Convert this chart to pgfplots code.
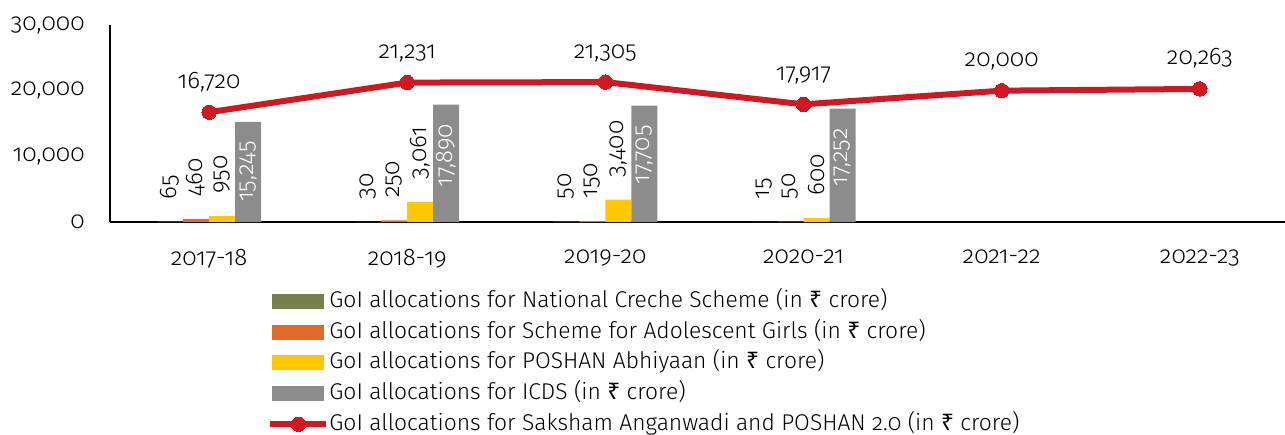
\documentclass[border=0pt]{standalone}
\usepackage{pgfplots}
\pgfplotsset{compat=1.18}
\usepackage{fontspec}
\setmainfont{Fira Sans}[UprightFont=* Light, Numbers={OldStyle,Proportional}]
\newfontfamily\rupeefont{Noto Sans}
\newcommand\rs{{\rupeefont ₹}}
\definecolor{cOlive}{RGB}{119,127,76}
\definecolor{cOrange}{RGB}{224,106,40}
\definecolor{cYellow}{RGB}{255,200,0}
\definecolor{cGray}{RGB}{140,140,140}
\definecolor{cRed}{RGB}{208,24,32}
\newcommand\numfont{\fontsize{12}{14}\selectfont}
\pgfplotsset{
  bar legend/.style={legend image code/.code={\fill[##1] (0pt,-3.75pt) rectangle (26pt,3.75pt);}},
  line legend red/.style={legend image code/.code={\draw[##1, mark repeat=2, mark phase=2] plot coordinates {(-1pt,0pt) (13pt,0pt) (27pt,0pt)};}},
  outlabel/.style={nodes near coords, nodes near coords style={xshift=#1, rotate=90, anchor=west, inner xsep=11pt, inner ysep=0pt, text=black, font=\numfont}},
  inlabel/.style={nodes near coords, nodes near coords style={xshift=#1, rotate=90, anchor=east, inner xsep=9.5pt, inner ysep=0pt, text=white, font=\numfont}},
}
\begin{document}
\begin{tikzpicture}
\useasboundingbox (0,0) rectangle (642.5pt,217pt);
\begin{axis}[
  at={(55pt,106pt)}, anchor=south west,
  scale only axis, width=587.5pt, height=98.5pt,
  xmin=-0.5, xmax=5.43, ymin=0, ymax=30000,
  clip=false,
  axis lines*=left,
  axis line style={line width=1pt, black},
  xtick={0,...,5},
  xticklabels={2017-18,2018-19,2019-20,2020-21,2021-22,2022-23},
  ytick={0,10000,20000,30000},
  major tick length=0pt,
  scaled y ticks=false,
  /pgf/number format/1000 sep={,},
  /pgf/number format/assume math mode=true,
  every x tick label/.append style={font=\numfont, inner sep=0pt, yshift=-13.5pt},
  every y tick label/.append style={font=\numfont, inner sep=0pt, xshift=-12.5pt},
  legend cell align=left,
  legend style={at={(0,0)}, anchor=north west, xshift=78.5pt, yshift=-33pt,
    draw=none, fill=none, inner sep=0pt, row sep=2.35pt,
    font=\fontsize{11.4}{13}\selectfont,
    nodes={inner sep=0pt, text height=9.5pt, text depth=3.5pt},
    /tikz/every even column/.append style={column sep=2pt}},
]
\addplot[ybar, bar width=13pt, bar shift=-19.5pt, fill=cOlive, draw=none, bar legend, outlabel=-19.5pt]
  coordinates {(0,65) (1,30) (2,50) (3,15)};
\addlegendentry{GoI allocations for National Creche Scheme (in \rs{} crore)}
\addplot[ybar, bar width=13pt, bar shift=-6.5pt, fill=cOrange, draw=none, bar legend, outlabel=-6.5pt]
  coordinates {(0,460) (1,250) (2,150) (3,50)};
\addlegendentry{GoI allocations for Scheme for Adolescent Girls (in \rs{} crore)}
\addplot[ybar, bar width=13pt, bar shift=6.5pt, fill=cYellow, draw=none, bar legend, outlabel=6.5pt]
  coordinates {(0,950) (1,3061) (2,3400) (3,600)};
\addlegendentry{GoI allocations for POSHAN Abhiyaan (in \rs{} crore)}
\addplot[ybar, bar width=13pt, bar shift=19.5pt, fill=cGray, draw=none, bar legend, inlabel=19.5pt]
  coordinates {(0,15245) (1,17890) (2,17705) (3,17252)};
\addlegendentry{GoI allocations for ICDS (in \rs{} crore)}
\addplot[cRed, line width=3pt, line join=round, mark=*, mark size=3.6pt,
  mark options={fill=cRed, line width=0pt}, line legend red,
  nodes near coords, nodes near coords style={anchor=base, yshift=12pt, inner sep=0pt, text=black, font=\numfont}]
  coordinates {(0,16720) (1,21231) (2,21305) (3,17917) (4,20000) (5,20263)};
\addlegendentry{GoI allocations for Saksham Anganwadi and POSHAN 2.0 (in \rs{} crore)}
\end{axis}
\end{tikzpicture}
\end{document}
